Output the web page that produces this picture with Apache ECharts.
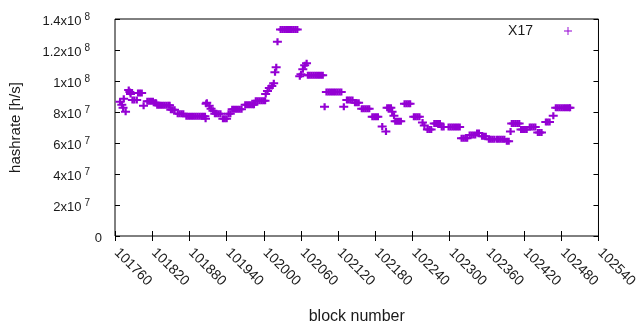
<!DOCTYPE html>
<html>
<head>
<meta charset="utf-8">
<script src="https://cdn.jsdelivr.net/npm/echarts@6/dist/echarts.min.js"></script>
<style>
  html, body { margin: 0; padding: 0; background: #fff; }
  #chart { width: 640px; height: 330px; }
</style>
</head>
<body>
<div id="chart"></div>
<script>
// block numbers and hashrate [h/s]
const blocks = [
  101768, 101771, 101773, 101774, 101777, 101782, 101784, 101785,
  101788, 101791, 101795, 101797, 101800, 101803, 101806,
  101812, 101815, 101818, 101821, 101824, 101826,
  101828, 101831, 101834, 101837, 101840, 101843, 101846, 101848,
  101850, 101853, 101856, 101861, 101864, 101867, 101870,
  101875, 101878, 101881, 101884, 101887, 101890, 101893, 101896, 101899, 101902, 101905,
  101906, 101907, 101908, 101912, 101915, 101918,
  101921, 101924, 101927, 101930, 101934, 101937, 101940, 101943, 101946,
  101949, 101952, 101955, 101958, 101961, 101964,
  101970, 101973, 101976, 101979, 101982, 101984,
  101987, 101990, 101993, 101996, 101999, 102002,
  102003, 102006, 102009, 102013, 102016, 102018, 102020, 102022,
  102027, 102030, 102033, 102036, 102039, 102042, 102045, 102048, 102051, 102054,
  102058, 102060, 102063, 102066, 102069,
  102071, 102074, 102077, 102080, 102083, 102086, 102089, 102092, 102095, 102098,
  102101, 102104, 102107, 102110, 102113, 102116, 102119, 102122, 102125, 102129,
  102134, 102137, 102140, 102143, 102147, 102150, 102153,
  102158, 102161, 102164, 102167, 102170, 102175, 102178, 102181, 102184,
  102191, 102197, 102199, 102202, 102205, 102207, 102210,
  102212, 102215, 102218, 102221, 102227, 102230, 102233, 102236,
  102242, 102245, 102248, 102251, 102256, 102259, 102264, 102267, 102270,
  102275, 102278, 102281, 102284, 102287, 102290,
  102298, 102301, 102304, 102307, 102310, 102313, 102316,
  102319, 102322, 102325, 102328, 102332, 102335, 102338, 102341, 102344, 102347,
  102352, 102355, 102358, 102363, 102366, 102369, 102372,
  102376, 102379, 102382, 102385, 102388, 102392, 102395, 102398,
  102400, 102403, 102406, 102409, 102412, 102415, 102418, 102421, 102424,
  102429, 102432, 102435, 102438, 102442, 102445, 102448, 102455, 102458, 102461, 102467,
  102471, 102474, 102477, 102480, 102483, 102486, 102489, 102492, 102494
]
const hashrate = [
  8.66e7, 8.46e7, 8.27e7, 8.85e7, 8.02e7, 9.42e7, 9.29e7, 9.16e7,
  8.78e7, 8.78e7, 8.78e7, 9.23e7, 9.23e7, 9.23e7, 8.40e7,
  8.69e7, 8.69e7, 8.69e7, 8.69e7, 8.59e7, 8.59e7,
  8.43e7, 8.43e7, 8.43e7, 8.43e7, 8.43e7, 8.43e7, 8.43e7, 8.43e7,
  8.15e7, 8.15e7, 8.15e7, 7.89e7, 7.89e7, 7.89e7, 7.89e7,
  7.73e7, 7.73e7, 7.73e7, 7.73e7, 7.73e7, 7.73e7, 7.73e7, 7.73e7, 7.73e7, 7.73e7, 7.73e7,
  7.57e7, 8.53e7, 8.59e7, 8.40e7, 8.21e7, 8.08e7,
  7.89e7, 7.89e7, 7.89e7, 7.89e7, 7.57e7, 7.57e7, 7.57e7, 7.89e7, 7.89e7,
  8.18e7, 8.18e7, 8.18e7, 8.18e7, 8.18e7, 8.18e7,
  8.46e7, 8.46e7, 8.46e7, 8.46e7, 8.46e7, 8.46e7,
  8.72e7, 8.72e7, 8.72e7, 8.72e7, 8.72e7, 8.72e7,
  9.16e7, 9.36e7, 9.55e7, 9.67e7, 9.86e7, 10.56e7, 10.88e7, 12.54e7,
  13.33e7, 13.33e7, 13.33e7, 13.33e7, 13.33e7, 13.33e7, 13.33e7, 13.33e7, 13.33e7, 13.33e7,
  10.31e7, 10.44e7, 10.76e7, 11.01e7, 11.14e7,
  10.37e7, 10.37e7, 10.37e7, 10.37e7, 10.37e7, 10.37e7, 10.37e7, 10.37e7, 10.37e7, 8.34e7,
  9.29e7, 9.29e7, 9.29e7, 9.29e7, 9.29e7, 9.29e7, 9.29e7, 9.29e7, 9.29e7, 8.34e7,
  8.78e7, 8.78e7, 8.78e7, 8.78e7, 8.59e7, 8.59e7, 8.59e7,
  8.21e7, 8.21e7, 8.21e7, 8.21e7, 8.21e7, 7.70e7, 7.70e7, 7.70e7, 7.70e7,
  7.06e7, 6.75e7, 8.27e7, 8.27e7, 8.27e7, 8.02e7, 7.76e7,
  7.41e7, 7.41e7, 7.41e7, 7.41e7, 8.53e7, 8.53e7, 8.53e7, 8.53e7,
  7.70e7, 7.70e7, 7.70e7, 7.70e7, 7.32e7, 7.13e7, 6.87e7, 6.87e7, 6.87e7,
  7.26e7, 7.26e7, 7.26e7, 7.26e7, 7.03e7, 7.03e7,
  7.03e7, 7.03e7, 7.03e7, 7.03e7, 7.03e7, 7.03e7, 7.03e7,
  6.30e7, 6.30e7, 6.30e7, 6.30e7, 6.52e7, 6.52e7, 6.52e7, 6.52e7, 6.65e7, 6.65e7,
  6.43e7, 6.43e7, 6.43e7, 6.24e7, 6.24e7, 6.24e7, 6.24e7,
  6.24e7, 6.24e7, 6.24e7, 6.24e7, 6.24e7, 6.11e7, 6.11e7, 6.75e7,
  7.26e7, 7.26e7, 7.26e7, 7.26e7, 7.26e7, 6.87e7, 6.87e7, 6.87e7, 6.87e7,
  7.03e7, 7.03e7, 7.03e7, 7.03e7, 6.68e7, 6.68e7, 6.68e7, 7.35e7, 7.35e7, 7.35e7, 7.76e7,
  8.27e7, 8.27e7, 8.27e7, 8.27e7, 8.27e7, 8.27e7, 8.27e7, 8.27e7, 8.27e7
]
const xTicks = { min: 101760, max: 102540, step: 60 }
const yTicks = { min: 0, max: 1.4e8, step: 2e7 }
// exponent labels, same order as the y ticks
const yMantissa = ['0', '2', '4', '6', '8', '1', '1.2', '1.4']
const yExponent = ['', '7', '7', '7', '7', '8', '8', '8']

const color = '#9400d3'
const font = 'Liberation Sans, Arial, sans-serif'
const plus = 'path://M0,25H35V0H57V25H90V45H57V70H35V45H0Z'
const plusThin = 'path://M0,31H31V0H39V31H70V39H39V70H31V39H0Z'

const chart = echarts.init(document.getElementById('chart'), null, { renderer: 'canvas' })

const yLabel = (v) => {
  const i = Math.round(v / yTicks.step)
  if (!yExponent[i]) return yMantissa[i]
  return '{m|' + yMantissa[i] + 'x10}{e|' + yExponent[i] + '}{p|}'
}

const axisCommon = {
  axisLine: { show: false },
  axisTick: { inside: true, length: 5, lineStyle: { color: '#000', width: 1 } },
  splitLine: { show: false },
}

const option = {
  animation: false,
  grid: {
    left: 114, right: 32, top: 19, bottom: 91,
    show: true, borderColor: '#000', borderWidth: 1, backgroundColor: 'transparent',
  },
  legend: {
    data: ['X17'],
    right: 68,
    top: 24,
    padding: 0,
    align: 'right',
    itemWidth: 8,
    itemHeight: 8,
    icon: plusThin,
    textStyle: { fontFamily: font, fontSize: 14, color: '#1a1a1a', padding: [0, 26, 0, 0] },
  },
  xAxis: [
    {
      type: 'value',
      min: xTicks.min, max: xTicks.max, interval: xTicks.step,
      name: 'block number',
      nameLocation: 'middle',
      nameGap: 73,
      nameTextStyle: { fontFamily: font, fontSize: 16, color: '#1a1a1a' },
      ...axisCommon,
      axisLabel: {
        rotate: -45, margin: 13, fontFamily: font, fontSize: 14, color: '#1a1a1a',
        showMinLabel: true, showMaxLabel: true,
        padding: [0, 0, 0, 2],
        formatter: (v) => String(v),
      },
    },
    {
      type: 'value', position: 'top',
      min: xTicks.min, max: xTicks.max, interval: xTicks.step,
      ...axisCommon,
      axisLabel: { show: false },
    },
  ],
  yAxis: [
    {
      type: 'value',
      min: yTicks.min, max: yTicks.max, interval: yTicks.step,
      name: 'hashrate [h/s]',
      nameLocation: 'middle',
      nameGap: 92,
      nameRotate: 90,
      nameTextStyle: { fontFamily: font, fontSize: 15, color: '#1a1a1a' },
      ...axisCommon,
      axisLabel: {
        margin: 13, fontFamily: font, fontSize: 13, color: '#1a1a1a',
        padding: [5, 0, 0, 0],
        formatter: yLabel,
        rich: {
          m: { fontFamily: font, fontSize: 13, color: '#1a1a1a' },
          e: { fontFamily: font, fontSize: 10, color: '#1a1a1a', padding: [0, 0, 9, 3] },
          p: { width: 12 },
        },
      },
    },
    {
      type: 'value', position: 'right',
      min: yTicks.min, max: yTicks.max, interval: yTicks.step,
      ...axisCommon,
      axisLabel: { show: false },
    },
  ],
  series: [
    {
      name: 'X17',
      type: 'scatter',
      symbol: plus,
      symbolSize: [9, 7],
      itemStyle: { color: color, opacity: 1 },
      data: blocks.map((b, i) => [b, hashrate[i]]),
    },
  ],
}

chart.setOption(option)
</script>
</body>
</html>
